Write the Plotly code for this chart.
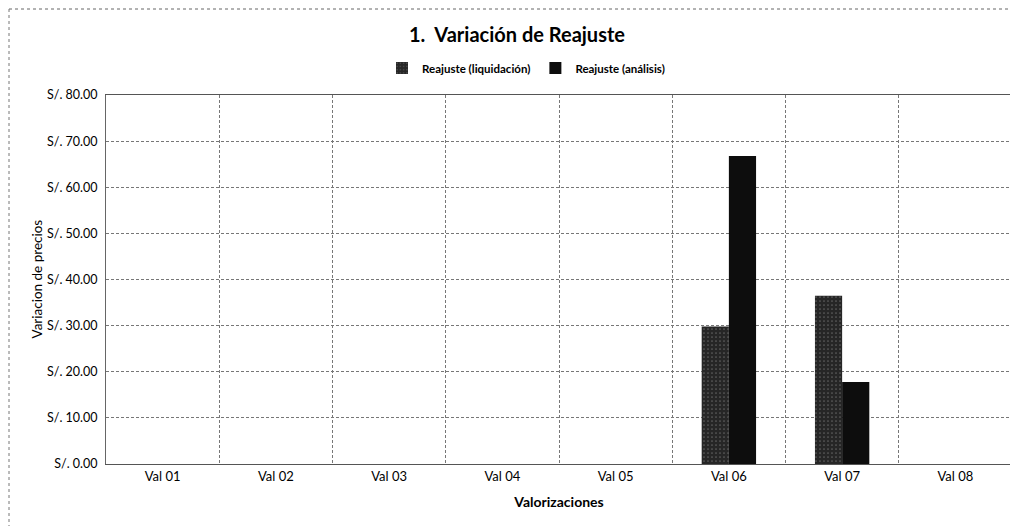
import plotly.graph_objects as go

categories = ["Val 01", "Val 02", "Val 03", "Val 04", "Val 05", "Val 06", "Val 07", "Val 08"]
liquidacion = [0, 0, 0, 0, 0, 29.8, 36.5, 0]
analisis = [0, 0, 0, 0, 0, 66.8, 17.8, 0]
y_ticks = [0, 10, 20, 30, 40, 50, 60, 70, 80]
y_tick_text = ["S/. 0.00", "S/. 10.00", "S/. 20.00", "S/. 30.00", "S/. 40.00",
               "S/. 50.00", "S/. 60.00", "S/. 70.00", "S/. 80.00"]

font_family = "Lato, 'Open Sans', sans-serif"

fig = go.Figure()
fig.add_trace(go.Bar(
    name="<b>Reajuste (liquidación)</b>", x=categories, y=liquidacion,
    marker=dict(color="#262626", line=dict(width=0),
                pattern=dict(shape=".", fgcolor="#9a9a9a", bgcolor="#262626", size=4, solidity=0.15)),
))
fig.add_trace(go.Bar(
    name="<b>Reajuste (análisis)</b>", x=categories, y=analisis,
    marker=dict(color="#0d0d0d", line=dict(width=0)),
))

# page body adds an 8px offset; figure sized so plot lands at the reference positions
OFF = 8
W, H = 1018 - OFF, 526 - OFF
L, R, T, B = 106 - OFF, 6, 95 - OFF, 62
pw, ph = W - L - R, H - T - B

def px_x(x):  # page pixel -> paper x
    return (x - OFF - L) / pw

def px_y(y):  # page pixel -> paper y
    return 1 - (y - OFF - T) / ph

fig.update_layout(
    width=W, height=H,
    barmode="group", bargap=0.52, bargroupgap=0,
    paper_bgcolor="white", plot_bgcolor="white",
    margin=dict(l=L, r=R, t=T, b=B, autoexpand=False),
    font=dict(family=font_family, color="#000", size=12),
    title=dict(text="<b>1.  Variación de Reajuste</b>", x=(517 - OFF) / W, xanchor="center",
               y=1 - (35 - OFF) / H, yanchor="middle", font=dict(size=20, color="#000")),
    legend=dict(orientation="h", x=px_x(526), xanchor="center", y=px_y(68), yanchor="middle",
                font=dict(size=11.5, color="#000"), itemwidth=30, tracegroupgap=0),
    showlegend=True,
    shapes=[
        dict(type="line", xref="paper", yref="paper",
             x0=px_x(9), x1=px_x(1018), y0=px_y(9), y1=px_y(9),
             line=dict(color="#666", width=1, dash="dot")),
        dict(type="line", xref="paper", yref="paper",
             x0=px_x(9), x1=px_x(9), y0=px_y(9), y1=px_y(526),
             line=dict(color="#777", width=1, dash="dot")),
    ],
    annotations=[
        dict(text="Variacion de precios", xref="paper", yref="paper",
             x=px_x(36), y=0.5, xanchor="center", yanchor="middle",
             textangle=-90, showarrow=False, font=dict(size=13.5, color="#000")),
    ],
)
fig.update_xaxes(
    type="category", tickson="boundaries", showgrid=True, automargin=False,
    gridcolor="#777", griddash="3px,2px", gridwidth=1,
    showline=True, linecolor="#555", linewidth=1,
    ticks="", tickfont=dict(size=13, color="#000"),
    title=dict(text="<b>Valorizaciones</b>", font=dict(size=14, color="#000"), standoff=14),
    mirror=True,
)
fig.update_yaxes(
    range=[0, 80], tickvals=y_ticks, ticktext=y_tick_text, automargin=False,
    showgrid=True, gridcolor="#777", griddash="3px,2px", gridwidth=1,
    showline=True, linecolor="#666", linewidth=1, mirror=True,
    zeroline=False, ticks="", ticklabelstandoff=5, tickfont=dict(size=12.5, color="#000"),
)

fig.write_html("out.html")
